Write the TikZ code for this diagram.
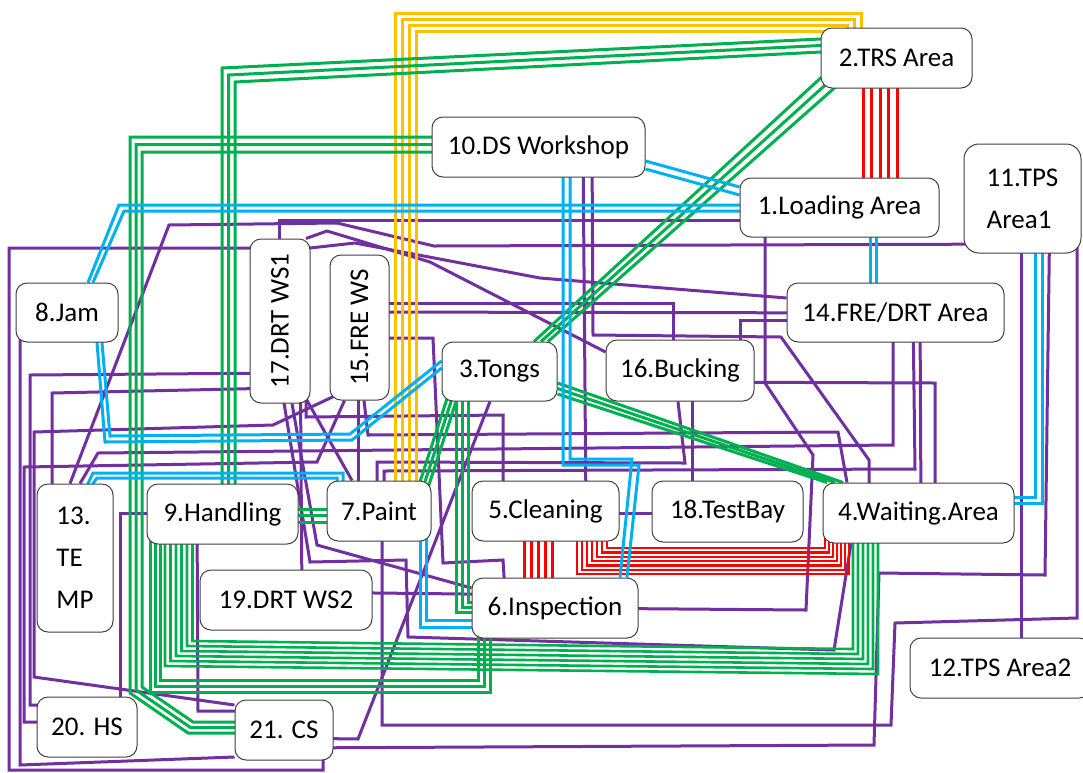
\documentclass[tikz,border=0pt]{standalone}
\usepackage{fontspec}
\setmainfont{Carlito}
\usepackage{graphicx}
\usetikzlibrary{calc}
\pgfdeclarelayer{bg}
\pgfsetlayers{bg,main}
\definecolor{cpu}{HTML}{7030A0}
\definecolor{cgr}{HTML}{00B050}
\definecolor{cbl}{HTML}{00B0F0}
\definecolor{cye}{HTML}{FFC000}
\definecolor{crd}{HTML}{FF0000}
\begin{document}
\begin{tikzpicture}[x=1pt,y=-1pt,
  box/.style={draw=black!75, line width=1pt, fill=white, rounded corners=11pt,
    font=\fontsize{27}{42}\selectfont, inner sep=0pt, align=center},
  pu/.style={draw=cpu, line width=3pt},
  gr/.style={draw=cgr, line width=3pt},
  bl/.style={draw=cbl, line width=3pt},
  ye/.style={draw=cye, line width=3pt},
  rd/.style={draw=crd, line width=3pt}]
\useasboundingbox (0,0) rectangle (1083,772);
% ---------------- nodes
\node[box, minimum width=151, minimum height=60] (n2) at (896.5,58) {2.TRS Area};
\node[box, minimum width=213, minimum height=60] (n10) at (538.5,147) {10.DS Workshop};
\node[box, minimum width=199, minimum height=59] (n1) at (839.5,207.5) {1.Loading Area};
\node[box, align=left, rounded corners=15pt, minimum width=117, minimum height=109] (n11) at (1022.5,198.5) {11.TPS\\Area1};
\node[box, minimum width=102, minimum height=59] (n8) at (67,312.5) {8.Jam};
\node[box, minimum width=60, minimum height=164] (n17) at (280,321) {\rotatebox{90}{17.DRT WS1}};
\node[box, minimum width=59, minimum height=145] (n15) at (359.5,327.5) {\rotatebox{90}{15.FRE WS}};
\node[box, minimum width=217, minimum height=59] (n14) at (895.5,312.5) {14.FRE/DRT Area};
\node[box, minimum width=115, minimum height=59] (n3) at (499.5,371.5) {3.Tongs};
\node[box, minimum width=148, minimum height=61] (n16) at (680,370.5) {16.Bucking};
\node[box, align=left, minimum width=76, minimum height=148] (n13) at (75,558) {13.\\TE\\MP};
\node[box, minimum width=151, minimum height=60] (n9) at (222.5,514) {9.Handling};
\node[box, minimum width=104, minimum height=60] (n7) at (379,511) {7.Paint};
\node[box, minimum width=147, minimum height=60] (n5) at (545.5,511) {5.Cleaning};
\node[box, minimum width=151, minimum height=61] (n18) at (727.5,511.5) {18.TestBay};
\node[box, minimum width=191, minimum height=60] (n4) at (918.5,513) {4.Waiting.Area};
\node[box, minimum width=172, minimum height=60] (n19) at (286,600) {19.DRT WS2};
\node[box, minimum width=166, minimum height=60] (n6) at (555,608) {6.Inspection};
\node[box, minimum width=180, minimum height=60] (n12) at (1000,668) {12.TPS Area2};
\node[box, minimum width=100, minimum height=60] (n20) at (87,727) {20. HS};
\node[box, minimum width=98, minimum height=60] (n21) at (284,730) {21. CS};
% ---------------- connectors
\begin{pgfonlayer}{bg}
\fill[white] (0,0) rectangle (1083,772);
% purple
\draw[pu] (n1.center |- 0,220) -- (279,220) -- (279,0 |- n17.center);
\draw[pu] (70,0 |- n13.north) -- (169,225) -- (337,223) -- (434,246) -- (n11.center |- 0,244);
\draw[pu] (n14.west |- 0,298) -- (540,278) -- (355,243) -- (310,248) -- (9,248) -- (9,770) -- (323,770) -- (323,0 |- n21.center);
\draw[pu] (306,0 |- n17.north) -- (327,231) -- (430,262) -- (n16.west |- 0,352);
\draw[pu] (20,0 |- n8.center) -- (20,765) -- (n21.west |- 0,757);
\draw[pu] (n17.center |- 0,373) -- (30,375) -- (30,705) -- (n20.center |- 0,705);
\draw[pu] (n17.center |- 0,388) -- (52,393) -- (52,0 |- n13.center);
\draw[pu] ([xshift=4,yshift=4]n15.south west) -- (273,425) -- (34,432) -- (34,677) -- (n21.west |- 0,705);
\draw[pu] ([xshift=15]n15.south west) -- (317,462) -- (24,467) -- (24,722) -- (n20.center |- 0,722);
\draw[pu] (80,0 |- n13.north) -- (98,453) -- (893,445) -- (893,0 |- n14.center);
\draw[pu] (n9.center |- 0,513) -- (120,513) -- (120,0 |- n20.center);
\draw[pu] (197,0 |- n9.center) -- (198,711) -- (n21.center |- 0,711);
\draw[pu] (300,0 |- n17.center) -- (302,0 |- n19.center);
\draw[pu] (284,0 |- n17.center) -- (284,403) -- (310,562) -- (406,560) -- (408,637) -- (834,650) -- (851,0 |- n4.south);
\draw[pu] (292,0 |- n17.south) -- (317,545) -- (n6.west |- 0,588);
\draw[pu] (306,0 |- n17.center) -- (306,417) -- (503,415) -- (503,0 |- n5.center);
\draw[pu] ([xshift=-4,yshift=4]n17.south east) -- (352,0 |- n7.north);
\draw[pu] (358,0 |- n15.center) -- (358,0 |- n7.center);
\draw[pu] (364,0 |- n15.south) -- (368,435) -- (838,432) -- (847,0 |- n4.north);
\draw[pu] (n15.center |- 0,303) -- (673,303) -- (673,0 |- n16.center);
\draw[pu] (n15.center |- 0,312) -- (n14.center |- 0,313);
\draw[pu] (n15.center |- 0,338) -- (433,338) -- (443,563) -- (503,560) -- (506,0 |- n6.center);
\draw[pu] (n14.center |- 0,320) -- (740,320) -- (740,0 |- n16.center);
\draw[pu] (592,0 |- n10.center) -- (593,335) -- (781,337) -- (869,460) -- (869,0 |- n4.center);
\draw[pu] (583,0 |- n10.center) -- (586,0 |- n5.center);
\draw[pu] (765,0 |- n1.center) -- (765,383) -- (813,455) -- (806,610) -- (n6.center |- 0,608);
\draw[pu] (920,0 |- n14.center) -- (921,0 |- n4.center);
\draw[pu] (n16.center |- 0,382) -- (935,383) -- (935,0 |- n4.center);
\draw[pu] (692,0 |- n16.center) -- (692,0 |- n18.center);
\draw[pu] (377,0 |- n7.center) -- (377,462) -- (685,463) -- (678,0 |- n16.south);
\draw[pu] (384,0 |- n7.center) -- (384,471) -- (915,469) -- (913,0 |- n14.center);
\draw[pu] (n5.center |- 0,513) -- (n18.center |- 0,513);
\draw[pu] (n19.center |- 0,592) -- (n6.center |- 0,595);
\draw[pu] (n21.center |- 0,738) -- (358,739) -- (490,0 |- n3.south);
\draw[pu] (1050,0 |- n11.center) -- (1045,575) -- (879,573) -- (874,745) -- (n21.center |- 0,748);
\draw[pu] (1077,0 |- n11.center) -- (1077,618) -- (895,623) -- (891,725) -- (382,725) -- (382,0 |- n7.center);
\draw[pu] (1021,0 |- n11.center) -- (1021,0 |- n12.center);
% yellow: Paint - TRS
\foreach \i in {0,...,3}{
  \pgfmathsetmacro\aX{395+7.3*\i}\pgfmathsetmacro\aY{13+6.3*\i}\pgfmathsetmacro\bX{861-7*\i}
  \draw[ye] (\aX,0 |- n7.center) -- (\aX,\aY) -- (\bX,\aY) -- (\bX,0 |- n2.center);}
% green: TRS - Handling
\foreach \i in {0,1,2}{
  \pgfmathsetmacro\aY{39+6.5*\i}\pgfmathsetmacro\aX{222+6.5*\i}\pgfmathsetmacro\bY{68+7*\i}
  \draw[gr] (n2.center |- 0,\aY) -- (n2.west |- 0,\aY) -- (\aX,\bY) -- (\aX,0 |- n9.center);}
% green: DS - CS
\foreach \i in {0,1,2}{
  \pgfmathsetmacro\aY{137+7.5*\i}\pgfmathsetmacro\aX{130+6*\i}\pgfmathsetmacro\bY{693-3*\i}
  \pgfmathsetmacro\bX{188+2.5*\i}\pgfmathsetmacro\cY{733-5.5*\i}
  \draw[gr] (n10.center |- 0,\aY) -- (\aX,\aY) -- (\aX,\bY) -- (\bX,\cY) -- (n21.center |- 0,\cY);}
% green: Handling - Inspection
\foreach \i in {0,1,2}{
  \pgfmathsetmacro\aX{150+5*\i}\pgfmathsetmacro\aY{692-6*\i}\pgfmathsetmacro\bX{490-6*\i}
  \draw[gr] (\aX,0 |- n9.center) -- (\aX,\aY) -- (\bX,\aY) -- (\bX,0 |- n6.center);}
% green: Handling - Waiting
\foreach \i in {0,...,5}{
  \pgfmathsetmacro\aX{165+5.5*\i}\pgfmathsetmacro\aY{666-5*\i}\pgfmathsetmacro\bY{674-5*\i}\pgfmathsetmacro\bX{878-5*\i}
  \draw[gr,line width=2.6pt] (\aX,0 |- n9.center) -- (\aX,\aY) -- (\bX,\bY) -- (\bX,0 |- n4.center);}
% green: Handling - Paint
\foreach \i in {0,1,2}{
  \pgfmathsetmacro\aY{509+6.5*\i}
  \draw[gr] (n9.center |- 0,\aY) -- (n7.center |- 0,\aY);}
% green: Tongs - Paint
\foreach \i in {0,1,2}{
  \pgfmathsetmacro\aX{7.5+5*\i}\pgfmathsetmacro\bX{90+5*\i}
  \draw[gr] ([xshift=\aX,yshift=9]n3.south west) -- ([xshift=\bX,yshift=-12]n7.north west);}
% green: Tongs - Inspection
\foreach \i in {0,1,2}{
  \pgfmathsetmacro\aX{456+6*\i}\pgfmathsetmacro\aY{612-5*\i}
  \draw[gr] (\aX,0 |- n3.center) -- (\aX,\aY) -- (n6.center |- 0,\aY);}
% green: Tongs - Waiting
\foreach \i in {0,1,2}{
  \pgfmathsetmacro\aY{383+5.5*\i}\pgfmathsetmacro\bX{843-8*\i}
  \draw[gr] (n3.east |- 0,\aY) -- (\bX,0 |- n4.north);}
% green: TRS - Tongs
\foreach \i in {0,1,2}{
  \pgfmathsetmacro\aX{17+6.4*\i}\pgfmathsetmacro\aY{26-5.7*\i}\pgfmathsetmacro\bX{534+7*\i}
  \draw[gr] ([xshift=\aX,yshift=\aY]n2.south west) -- (\bX,0 |- n3.north);}
% red: TRS - Loading
\foreach \i in {0,...,4}{
  \pgfmathsetmacro\aX{863+8.5*\i}
  \draw[rd] (\aX,0 |- n2.center) -- (\aX,0 |- n1.center);}
% red: Cleaning - Inspection
\foreach \i in {0,...,4}{
  \pgfmathsetmacro\aX{524+7*\i}
  \draw[rd] (\aX,0 |- n5.center) -- (\aX,0 |- n6.center);}
% red: Cleaning - Waiting
\foreach \i in {0,...,6}{
  \pgfmathsetmacro\aX{577+5*\i}\pgfmathsetmacro\aY{574-4.3*\i}\pgfmathsetmacro\bX{849-4*\i}
  \draw[rd,line width=2.3pt] (\aX,0 |- n5.center) -- (\aX,\aY) -- (\bX,\aY) -- (\bX,0 |- n4.center);}
% blue
\foreach \i in {0,1}{
  \pgfmathsetmacro\aY{161+8*\i}\pgfmathsetmacro\bY{187+8*\i}
  \draw[bl] (n10.east |- 0,\aY) -- (n1.west |- 0,\bY);}
\foreach \i in {0,1}{
  \pgfmathsetmacro\aY{205+6*\i}\pgfmathsetmacro\aX{119+5*\i}\pgfmathsetmacro\bX{88+5*\i}
  \draw[bl] (n1.center |- 0,\aY) -- (\aX,\aY) -- (\bX,0 |- n8.north);}
\foreach \i in {0,1}{
  \pgfmathsetmacro\aX{97+5*\i}\pgfmathsetmacro\bX{105+5*\i}\pgfmathsetmacro\aY{442-6*\i}
  \pgfmathsetmacro\cX{352-2*\i}\pgfmathsetmacro\bY{440-6*\i}\pgfmathsetmacro\cY{368-7*\i}
  \draw[bl] (\aX,0 |- n8.center) -- (\aX,0 |- n8.south) -- (\bX,\aY) -- (\cX,\bY) -- (n3.west |- 0,\cY);}
\foreach \i in {0,1}{
  \pgfmathsetmacro\aX{88+5*\i}\pgfmathsetmacro\bX{93+4*\i}\pgfmathsetmacro\aY{473+5*\i}\pgfmathsetmacro\cX{343-6*\i}
  \draw[bl] (\aX,0 |- n13.center) -- (\aX,0 |- n13.north) -- (\bX,\aY) -- (\cX,\aY) -- (\cX,0 |- n7.center);}
\foreach \i in {0,1}{
  \pgfmathsetmacro\aX{420+6*\i}\pgfmathsetmacro\aY{627-7*\i}
  \draw[bl] (\aX,0 |- n7.center) -- (\aX,\aY) -- (n6.center |- 0,\aY);}
\foreach \i in {0,1}{
  \pgfmathsetmacro\aX{563+7*\i}\pgfmathsetmacro\aY{465-6*\i}\pgfmathsetmacro\bX{639-7*\i}\pgfmathsetmacro\cX{627-7*\i}
  \draw[bl] (\aX,0 |- n10.center) -- (\aX,\aY) -- (\bX,\aY) -- (\cX,0 |- n6.north);}
\foreach \i in {0,1}{
  \pgfmathsetmacro\aX{870+6*\i}
  \draw[bl] (\aX,0 |- n1.center) -- (\aX,0 |- n14.center);}
\foreach \i in {0,1}{
  \pgfmathsetmacro\aX{1042-7*\i}\pgfmathsetmacro\aY{503-6*\i}
  \draw[bl] (\aX,0 |- n11.center) -- (\aX,\aY) -- (n4.center |- 0,\aY);}
\end{pgfonlayer}
\end{tikzpicture}
\end{document}
